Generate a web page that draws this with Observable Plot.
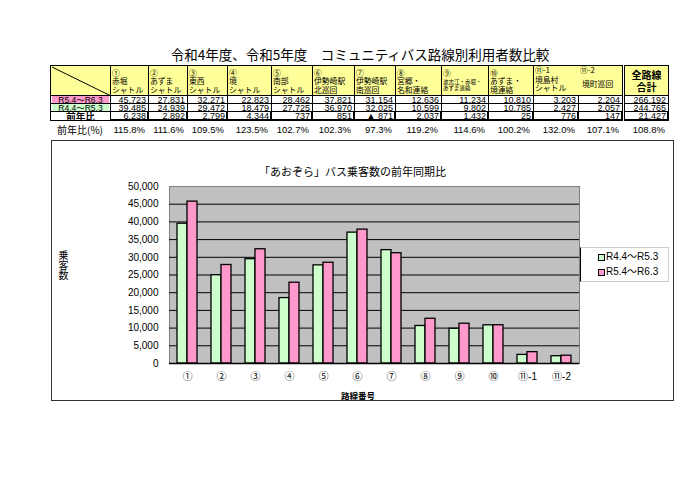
<!DOCTYPE html>
<html><head><meta charset="utf-8">
<script src="https://cdn.jsdelivr.net/npm/d3@7"></script>
<script src="https://cdn.jsdelivr.net/npm/@observablehq/plot@0.6"></script>
<style>
body{margin:0;background:#fff;width:700px;height:495px;position:relative;overflow:hidden;font-family:"Liberation Sans","Noto Sans CJK JP",sans-serif;color:#000;}
.abs{position:absolute;box-sizing:border-box;white-space:nowrap;}
</style></head><body>
<div id="root"></div>
<script>
// ---- data ----
const routes = ["①","②","③","④","⑤","⑥","⑦","⑧","⑨","⑩","⑪-1","⑪-2"];
const headNo = ["①","②","③","④","⑤","⑥","⑦","⑧","⑨","⑩","⑪-1","⑪-2"];
const headName = [["赤堀","シャトル"],["あずま","シャトル"],["東西","シャトル"],["境","シャトル"],["南部","シャトル"],["伊勢崎駅","北巡回"],["伊勢崎駅","南巡回"],["宮郷・","名和連絡"],["波志江・赤堀・","あずま連絡"],["あずま・","境連絡"],["境島村","シャトル"],["境町巡回"]];
const seriesNames = ["R4.4～R5.3","R5.4～R6.3"];
const valuesR5 = [45723,27831,32271,22823,28462,37821,31154,12636,11234,10810,3203,2204];
const valuesR4 = [39485,24939,29472,18479,27725,36970,32025,10599,9802,10785,2427,2057];
const totalR5 = 266192, totalR4 = 244765;
const yTicks = [0,5000,10000,15000,20000,25000,30000,35000,40000,45000,50000];
const title = "令和4年度、令和5年度　コミュニティバス路線別利用者数比較";
const chartTitle = "「あおぞら」バス乗客数の前年同期比";

const root = document.getElementById("root");
function el(x,y,w,h,html,css){const d=document.createElement("div");d.className="abs";d.style.cssText=`left:${x}px;top:${y}px;width:${w}px;height:${h}px;`+(css||"");d.innerHTML=html;root.appendChild(d);return d;}
const fmt = d3.format(",d");
const JP = "font-family:'Noto Sans CJK JP';";

// title
el(100,44,520,20,title,JP+"text-align:center;font-size:13.5px;line-height:20px;");

// table
const cols=[50,110,148,187,227,271,312,354,395,441,488,533,578,622];
const totX1=624, totX2=668;
const Y=[65,95,103,111,120];
const B="1px solid #000";
el(cols[0],Y[0],cols[1]-cols[0]+1,Y[1]-Y[0]+1,`<svg width="61" height="31" style="position:absolute;left:0;top:0"><line x1="1" y1="1" x2="60" y2="30" stroke="#000" stroke-width="1"/></svg>`,`background:#ffff99;border:${B};`);
function txt(x,cy,s,size,lh){lh=lh||8;el(x,cy-lh/2,0,lh,s,JP+`width:auto;font-size:${size}px;line-height:${lh}px;overflow:visible;`);}
for(let i=0;i<11;i++){
  const x1=cols[i+1], x2 = i===10?cols[13]:cols[i+2];
  el(x1,Y[0],x2-x1+1,Y[1]-Y[0]+1,"",`background:#ffff99;border:${B};`);
}
for(let i=0;i<10;i++){
  const x=cols[i+1]+2;
  txt(x,72.5,headNo[i],7.8);
  if(i===8){ txt(x,81.5,headName[i][0],5.5,6); txt(x,88,headName[i][1],5.5,6); }
  else { txt(x,81,headName[i][0],7.8); txt(x,89.5,headName[i][1],7.8); }
}
txt(cols[11]+2,70,headNo[10],7.8);
txt(cols[11]+2,79.5,headName[10][0],7.8);
txt(cols[11]+2,88,headName[10][1],7.8);
txt(cols[12]+2,70,headNo[11],7.8);
txt(cols[12]+4,84,headName[11][0],7.8);
el(totX1,Y[0],totX2-totX1+1,Y[1]-Y[0]+1,"",`background:#ffff99;border:${B};`);
el(totX1,69,totX2-totX1+1,11,"全路線",JP+"text-align:center;font-weight:bold;font-size:10px;line-height:11px;");
el(totX1,81,totX2-totX1+1,11,"合計",JP+"text-align:center;font-weight:bold;font-size:10px;line-height:11px;");

// data rows
const rowDefs=[
  {label:seriesNames[1], bg:"#ff99cc", vals:valuesR5.map(fmt), tot:fmt(totalR5)},
  {label:seriesNames[0], bg:"#ccffcc", vals:valuesR4.map(fmt), tot:fmt(totalR4)},
  {label:"前年比", bg:"#fff", vals:valuesR5.map((v,i)=>{const d=v-valuesR4[i];return d<0?"▲ "+fmt(-d):fmt(d);}), tot:fmt(totalR5-totalR4), thick:true}
];
rowDefs.forEach((r,ri)=>{
  const y1=Y[ri+1], y2=Y[ri+2], h=y2-y1+1;
  const bd = r.thick?"border:1px solid #000;border-right:2px solid #000;border-bottom:2px solid #000;":`border:${B};`;
  el(cols[0],y1,cols[1]-cols[0]+1,h,"",`border:${B};background:#fff;`);
  el(cols[0]+2,y1+1,cols[1]-cols[0]-3,h-2,"",`background:${r.bg};`);
  el(cols[0],y1+0.5,cols[1]-cols[0]+1,h-1,r.label,`text-align:center;font-size:${r.thick?9.5:8.5}px;line-height:${h-1}px;${r.thick?JP+"font-weight:bold;":""}`);
  for(let i=0;i<12;i++){
    const x1=cols[i+1], x2=cols[i+2];
    el(x1,y1,x2-x1+1,h,"",bd);
    el(x1,y1+0.5,x2-x1+1,h-1,r.vals[i],`text-align:right;padding-right:3px;font-size:9px;line-height:${h-1}px;`);
  }
  el(totX1,y1,totX2-totX1+1,h,"",bd);
  el(totX1,y1+0.5,totX2-totX1+1,h-1,r.tot,`text-align:right;padding-right:3px;font-size:9px;line-height:${h-1}px;`);
});
// percent row
el(cols[0],124,cols[1]-cols[0],12,"前年比(%)",JP+"text-align:center;font-size:10px;line-height:12px;");
for(let i=0;i<12;i++){
  el(cols[i+1],124,cols[i+2]-cols[i+1],12,(valuesR5[i]/valuesR4[i]*100).toFixed(1)+"%","text-align:right;padding-right:3px;font-size:9.5px;line-height:12px;");
}
el(totX1,124,totX2-totX1,12,(totalR5/totalR4*100).toFixed(1)+"%","text-align:right;padding-right:3px;font-size:9.5px;line-height:12px;");

// chart frame
el(51,140,623,261,"","border:1px solid #333;");

const data = routes.flatMap((r,i)=>[
  {route:r, series:seriesNames[0], v:valuesR4[i]},
  {route:r, series:seriesNames[1], v:valuesR5[i]}
]);
const colors = {[seriesNames[0]]:"#ccffcc",[seriesNames[1]]:"#ff99cc"};

const chart = Plot.plot({
  width:622, height:260,
  marginLeft:118, marginRight:94, marginTop:46, marginBottom:37,
  style:{fontFamily:"'Liberation Sans','Noto Sans CJK JP',sans-serif", fontSize:"10px", background:"transparent", color:"#000"},
  x:{domain:routes, paddingInner:0.415, paddingOuter:0.2075, label:null, tickSize:0, tickPadding:9},
  y:{domain:[0,50000], ticks:yTicks, tickFormat:d=>fmt(d), tickSize:0, tickPadding:11, label:null},
  marks:[
    Plot.frame({fill:"#c0c0c0", stroke:"#808080"}),
    Plot.ruleY(yTicks.slice(1,-1), {stroke:"#000", strokeWidth:1}),
    Plot.barY(data.filter(d=>d.series===seriesNames[0]), {x:"route", y:"v", fill:colors[seriesNames[0]], stroke:"#000", strokeWidth:1.3, insetRight:10}),
    Plot.barY(data.filter(d=>d.series===seriesNames[1]), {x:"route", y:"v", fill:colors[seriesNames[1]], stroke:"#000", strokeWidth:1.3, insetLeft:10}),
    Plot.ruleY([0], {stroke:"#000", strokeWidth:1.5})
  ]
});
chart.style.position="absolute"; chart.style.left="51px"; chart.style.top="140px";
root.appendChild(chart);

// chart titles & labels
el(200,163,305,16,chartTitle,JP+"text-align:center;font-size:11px;line-height:16px;");
el(57,250,13,45,"乗客数",JP+"writing-mode:vertical-rl;font-size:10px;line-height:13px;");
el(320,388,76,14,"路線番号",JP+"text-align:center;font-size:8.5px;font-weight:bold;line-height:14px;");

// legend
el(580,247,89,35,"","background:#fff;border:1px solid #ccc;border-left:1.5px solid #000;");
seriesNames.forEach((s,i)=>{
  el(598,254+i*15,7,7,"",`background:${colors[s]};border:1px solid #000;`);
  el(606,250+i*15,62,14,s,"font-size:10px;line-height:14px;");
});
</script>
</body></html>
